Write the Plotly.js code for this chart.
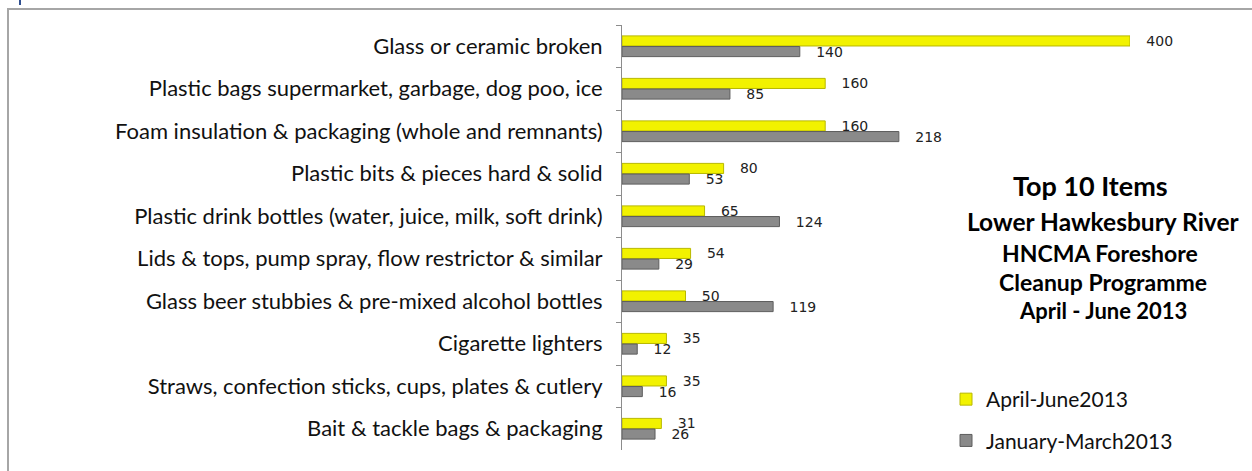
<!DOCTYPE html>
<html>
<head>
<meta charset="utf-8">
<script src="https://cdn.plot.ly/plotly-3.0.1.min.js"></script>
<style>
html,body{margin:0;padding:0;background:#fff;overflow:hidden;}
#chart{width:1252px;height:471px;position:absolute;left:0;top:0;}
#frame{position:absolute;left:7px;top:8px;width:1300px;height:500px;border-left:2px solid #a6a6a6;border-top:2px solid #a6a6a6;pointer-events:none;}
#mark{position:absolute;left:19px;top:0;width:2px;height:5px;background:#2f4f8f;}
</style>
</head>
<body>
<div id="frame"></div>
<div id="mark"></div>
<div id="chart"></div>
<script>
const categories = [
  "Glass or ceramic broken",
  "Plastic bags supermarket, garbage, dog poo, ice",
  "Foam insulation & packaging (whole and remnants)",
  "Plastic bits & pieces hard & solid",
  "Plastic drink bottles (water, juice, milk, soft drink)",
  "Lids & tops, pump spray, flow restrictor & similar",
  "Glass beer stubbies & pre-mixed alcohol bottles",
  "Cigarette lighters",
  "Straws, confection sticks, cups, plates & cutlery",
  "Bait & tackle bags & packaging"
];
const aprJun2013 = [400, 160, 160, 80, 65, 54, 50, 35, 35, 31];
const janMar2013 = [140, 85, 218, 53, 124, 29, 119, 12, 16, 26];
const seriesNames = ["April-June2013", "January-March2013"];
const titleLines = ["Top 10 Items", "Lower Hawkesbury River", "HNCMA Foreshore", "Cleanup Programme", "April - June 2013"];

const pad = '\u00a0\u00a0\u00a0';
const labelFont = {family: 'DejaVu Sans, sans-serif', size: 14, color: '#222'};

const traces = [
  {
    type: 'bar', orientation: 'h', name: seriesNames[0],
    y: categories, x: aprJun2013,
    marker: {color: '#f2f200', line: {color: '#b8b800', width: 1}},
    text: aprJun2013.map(v => pad + v), textposition: 'outside', constraintext: 'none',
    textfont: labelFont, cliponaxis: false, legendgroup: 'a',
    hoverinfo: 'x+y'
  },
  {
    type: 'bar', orientation: 'h', name: seriesNames[1],
    y: categories, x: janMar2013,
    marker: {color: '#8a8a8a', line: {color: '#5e5e5e', width: 1}},
    text: janMar2013.map(v => pad + v), textposition: 'outside', constraintext: 'none',
    textfont: labelFont, cliponaxis: false, legendgroup: 'b',
    hoverinfo: 'x+y'
  }
];

const annotations = [];
const ys = [185, 221, 253, 282, 310];
const xs = [1090, 1103, 1100, 1103, 1103];
const sizes = [27, 24.5, 23, 23, 22];
titleLines.forEach((t, i) => {
  annotations.push({
    text: '<b>' + t + '</b>', xref: 'paper', yref: 'paper',
    x: (xs[i] - 622) / 508, y: 1 - (ys[i] - 25) / 425,
    xanchor: 'center', yanchor: 'middle', showarrow: false,
    font: {family: 'Lato, Carlito, sans-serif', size: sizes[i], color: '#000'}
  });
});

const layout = {
  width: 1252, height: 471,
  margin: {l: 622, r: 122, t: 25, b: 21, autoexpand: false},
  paper_bgcolor: 'rgba(0,0,0,0)', plot_bgcolor: 'rgba(0,0,0,0)',
  barmode: 'group', bargap: 0.5, bargroupgap: 0.05,
  showlegend: true,
  legend: {
    x: (946 - 622) / 508, y: 1 - (379 - 25) / 425, xanchor: 'left', yanchor: 'top',
    traceorder: 'grouped', tracegroupgap: 11,
    font: {family: 'Lato, Carlito, sans-serif', size: 21, color: '#111'},
    itemwidth: 30, bgcolor: 'rgba(0,0,0,0)'
  },
  xaxis: {
    range: [0, 400], visible: false, fixedrange: true
  },
  yaxis: {
    type: 'category', autorange: 'reversed',
    showline: true, linecolor: '#8c8c8c', linewidth: 1,
    ticks: 'outside', ticklen: 5, tickcolor: '#8c8c8c', tickson: 'boundaries',
    ticklabelstandoff: 14,
    tickfont: {family: 'Lato, Carlito, sans-serif', size: 22, color: '#111'},
    showgrid: false, zeroline: false, fixedrange: true
  },
  annotations: annotations
};

Plotly.newPlot('chart', traces, layout, {displayModeBar: false, staticPlot: true});
</script>
</body>
</html>
